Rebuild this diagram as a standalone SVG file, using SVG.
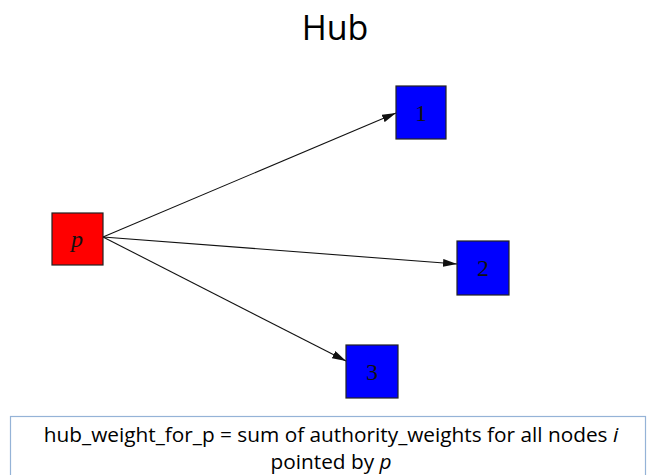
<svg xmlns="http://www.w3.org/2000/svg" width="649" height="475" viewBox="0 0 649 475">
<style>
.node rect{stroke:#222;stroke-width:1.2}
.lbl{font-family:"Liberation Serif",serif;font-size:24px;text-anchor:middle;fill:#111}
.edge{stroke:#111;stroke-width:1.1;fill:none}
.cap{font-family:"Open Sans","Liberation Sans",sans-serif;font-size:20.8px;text-anchor:middle;fill:#000}
</style>
<defs>
<marker id="arr" markerWidth="14" markerHeight="8" refX="14" refY="4" orient="auto" markerUnits="userSpaceOnUse">
<path d="M0,0 L14,4 L0,8 Z" fill="#111"/>
</marker>
</defs>
<rect width="649" height="475" fill="#fff"/>
<text x="335" y="40" font-family="'Open Sans','Liberation Sans',sans-serif" font-size="34" text-anchor="middle">Hub</text>
<g id="edges">
<line class="edge" x1="103" y1="237" x2="396" y2="113" marker-end="url(#arr)"/>
<line class="edge" x1="103" y1="237" x2="457" y2="264" marker-end="url(#arr)"/>
<line class="edge" x1="103" y1="237" x2="346" y2="361" marker-end="url(#arr)"/>
</g>
<g id="node-p" class="node"><rect x="52" y="213" width="51" height="52" fill="#ff0000"/><text class="lbl" x="77" y="247" font-style="italic">p</text></g>
<g id="node-1" class="node"><rect x="396" y="86" width="50" height="53" fill="#0000ff"/><text class="lbl" x="421" y="121">1</text></g>
<g id="node-2" class="node"><rect x="457" y="241" width="52" height="54" fill="#0000ff"/><text class="lbl" x="483" y="276">2</text></g>
<g id="node-3" class="node"><rect x="346" y="345" width="52" height="53" fill="#0000ff"/><text class="lbl" x="372" y="380">3</text></g>
<g id="caption">
<rect x="10.5" y="416.5" width="635" height="70" fill="#fff" stroke="#95b3d7" stroke-width="1.2"/>
<text class="cap" x="331" y="442">hub_weight_for_p = sum of authority_weights for all nodes <tspan font-style="italic">i</tspan></text>
<text class="cap" x="331" y="469">pointed by <tspan font-style="italic">p</tspan></text>
</g>
</svg>
